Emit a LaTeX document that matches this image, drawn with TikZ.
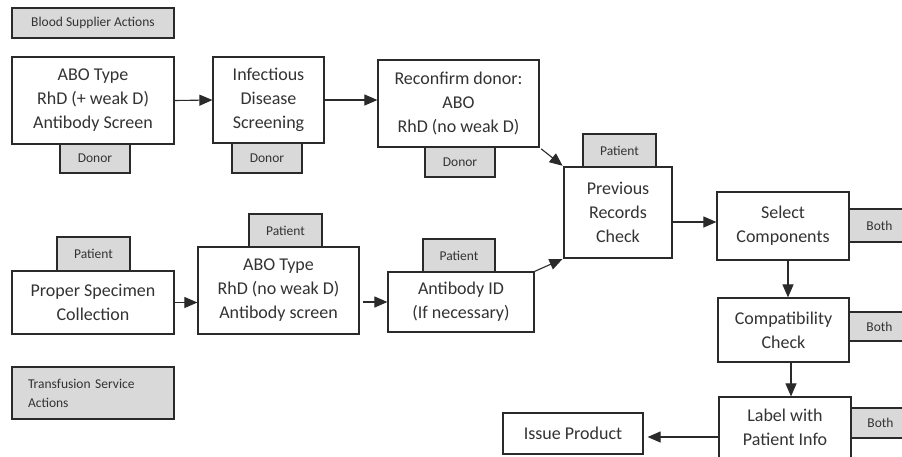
\documentclass[tikz,border=0pt]{standalone}
\usepackage{fontspec}
\setmainfont{Carlito}
\usetikzlibrary{arrows.meta}
\definecolor{txt}{HTML}{333333}
\definecolor{ln}{HTML}{2A2A2A}
\definecolor{tabfill}{HTML}{D9D9D9}
\tikzset{
  box/.style={draw=ln, line width=1.2pt, fill=white, inner sep=0pt, align=center, text=txt,
    font=\fontsize{18}{24}\selectfont},
  tab/.style={draw=ln, line width=1.2pt, fill=tabfill, inner sep=0pt, align=center, text=txt,
    font=\fontsize{13.5}{19}\selectfont},
  arr/.style={draw=ln, line width=1.1pt, -{Triangle[length=13pt,width=11pt]}}
}
\begin{document}
\begin{tikzpicture}[x=1pt,y=-1pt]
\useasboundingbox (0,0) rectangle (902,456);
% top row
\node[tab, minimum width=162, minimum height=30] (bsa) at (93,23) {Blood Supplier Actions};
\node[box, minimum width=162, minimum height=87] (abo1) at (93,100.5) {ABO Type\\RhD (+ weak D)\\Antibody Screen};
\node[tab, minimum width=70, minimum height=29] (don1) at (95,158.5) {Donor};
\node[box, minimum width=111, minimum height=86] (inf) at (268.5,100) {Infectious\\Disease\\Screening};
\node[tab, minimum width=70, minimum height=30] (don2) at (267,158) {Donor};
\node[box, minimum width=161, minimum height=87] (rec) at (458.5,103.5) {Reconfirm donor:\\ABO\\RhD (no weak D)};
\node[tab, minimum width=70, minimum height=30] (don3) at (460,162) {Donor};
% middle
\node[box, minimum width=108, minimum height=91] (prev) at (618,212.5) {Previous\\Records\\Check};
\node[tab, minimum width=73, minimum height=33] (pat4) at (619.5,150.5) {Patient};
\node[box, minimum width=132, minimum height=68] (sel) at (783,226) {Select\\Components};
\node[tab, minimum width=61, minimum height=33] (both1) at (879.5,225.5) {Both};
% bottom row
\node[box, minimum width=162, minimum height=63] (psc) at (93,302.5) {Proper Specimen\\Collection};
\node[tab, minimum width=73, minimum height=34] (pat1) at (93.5,254) {Patient};
\node[box, minimum width=161, minimum height=87] (abo2) at (278.5,290.5) {ABO Type\\RhD (no weak D)\\Antibody screen};
\node[tab, minimum width=73, minimum height=33] (pat2) at (285.5,230.5) {Patient};
\node[box, minimum width=146, minimum height=60] (abid) at (461,302) {Antibody ID\\(If necessary)};
\node[tab, minimum width=72, minimum height=33] (pat3) at (459,255.5) {Patient};
\node[tab, align=left, text width=130pt, inner xsep=16pt, minimum height=52] (tsa) at (93,393) {Transfusion Service\\Actions};
% right column
\node[box, minimum width=131, minimum height=64] (comp) at (783.5,330) {Compatibility\\Check};
\node[tab, minimum width=61, minimum height=29] (both2) at (879.5,326.5) {Both};
\node[box, minimum width=132, minimum height=61] (lab) at (785,427.5) {Label with\\Patient Info};
\node[tab, minimum width=59, minimum height=30] (both3) at (880.5,423) {Both};
\node[box, minimum width=140, minimum height=41] (iss) at (573,433.5) {Issue Product};
% connectors
\draw[arr] (abo1.east) -- (inf.west);
\draw[arr] (inf.east) -- (inf.east -| rec.west);
\draw[arr, shorten <=2pt, shorten >=1pt] (rec.south east) -- (prev.north west);
\draw[arr] ([yshift=-9.5pt]prev.east) -- ([yshift=-9.5pt]prev.east -| sel.west);
\draw[arr] (psc.east) -- (psc.east -| abo2.west);
\draw[arr, shorten <=3pt] (abid.west -| abo2.east) -- (abid.west);
\draw[arr, shorten >=1pt] (abid.north east) -- (prev.south west);
\draw[arr] ([xshift=5pt]sel.south) -- ([xshift=5pt]sel.south |- comp.north);
\draw[arr] ([xshift=7.5pt]comp.south) -- ([xshift=7.5pt]comp.south |- lab.north);
\draw[arr, shorten >=4pt] ([yshift=-9.5pt]lab.west) -- ([yshift=-9.5pt]lab.west -| iss.east);
\end{tikzpicture}
\end{document}
